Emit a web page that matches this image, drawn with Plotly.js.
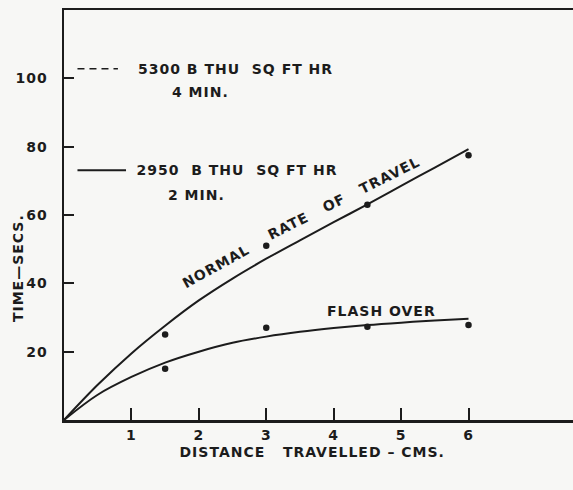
<!DOCTYPE html>
<html>
<head>
<meta charset="utf-8">
<script src="https://cdn.plot.ly/plotly-3.0.1.min.js"></script>
<style>
  html, body { margin: 0; padding: 0; background: #f7f7f5; }
  #chart { width: 573px; height: 490px; }
  #chart text { letter-spacing: 1px; }
</style>
</head>
<body>
<div id="chart"></div>
<script>
// Fitted curves (distance in cm, time in seconds)
const curveDistance = [0, 0.5, 1, 1.5, 2, 2.5, 3, 3.5, 4, 4.5, 5, 5.5, 6];
const normalRateCurve = [0, 10.3, 19.5, 27.6, 35, 41.4, 47.2, 52.6, 57.9, 63.1, 68.5, 73.9, 79.3];
const flashOverCurve = [0, 7.4, 12.6, 16.8, 20, 22.6, 24.4, 25.8, 26.9, 27.8, 28.5, 29.1, 29.6];

// Measured points
const pointDistance = [1.5, 3, 4.5, 6];
const normalRatePoints = [25, 51, 63, 77.5];
const flashOverPoints = [15, 27, 27.3, 27.8];

// Axis ticks
const xTickValues = [1, 2, 3, 4, 5, 6];
const yTickValues = [20, 40, 60, 80, 100];

const ink = '#1c1c1c';
const font = { family: 'DejaVu Sans', size: 14, color: ink, weight: 'bold' };

const traces = [
  {
    x: curveDistance, y: normalRateCurve, mode: 'lines',
    line: { color: ink, width: 2, shape: 'spline', smoothing: 1 },
    hoverinfo: 'skip'
  },
  {
    x: curveDistance, y: flashOverCurve, mode: 'lines',
    line: { color: ink, width: 2, shape: 'spline', smoothing: 1 },
    hoverinfo: 'skip'
  },
  {
    x: pointDistance.concat(pointDistance),
    y: normalRatePoints.concat(flashOverPoints),
    mode: 'markers',
    marker: { color: ink, size: 6.5 }
  }
];

const layout = {
  width: 573, height: 490,
  margin: { l: 64, r: 0, t: 10, b: 70 },
  paper_bgcolor: '#f7f7f5', plot_bgcolor: '#f7f7f5',
  showlegend: false,
  font: font,
  xaxis: {
    range: [0, 7.55], showgrid: false, zeroline: false,
    showline: true, mirror: true, linecolor: ink, linewidth: 2.5,
    tickvals: xTickValues, ticks: 'inside', ticklen: 12, tickwidth: 2, tickcolor: ink,
    ticklabelstandoff: 1, tickfont: font
  },
  yaxis: {
    range: [0, 120], showgrid: false, zeroline: false,
    showline: true, linecolor: ink, linewidth: 2.5,
    tickvals: yTickValues, ticks: 'inside', ticklen: 10, tickwidth: 2, tickcolor: ink,
    ticklabelstandoff: 11, tickfont: font
  },
  shapes: [
    // key samples
    { type: 'line', xref: 'x', yref: 'y', x0: 0.2, x1: 0.8, y0: 102.8, y1: 102.8,
      line: { color: ink, width: 1.5, dash: '7px,5px' } },
    { type: 'line', xref: 'x', yref: 'y', x0: 0.2, x1: 0.92, y0: 73.1, y1: 73.1,
      line: { color: ink, width: 2 } }
  ],
  annotations: [
    { text: '5300 B THU  SQ FT HR', x: 2.55, y: 102.8, xref: 'x', yref: 'y',
      xanchor: 'center', yanchor: 'middle', showarrow: false },
    { text: '4 MIN.', x: 2.02, y: 95.9, xref: 'x', yref: 'y',
      xanchor: 'center', yanchor: 'middle', showarrow: false },
    { text: '2950  B THU  SQ FT HR', x: 2.56, y: 73.1, xref: 'x', yref: 'y',
      xanchor: 'center', yanchor: 'middle', showarrow: false },
    { text: '2 MIN.', x: 1.97, y: 65.8, xref: 'x', yref: 'y',
      xanchor: 'center', yanchor: 'middle', showarrow: false },
    { text: 'NORMAL', x: 2.26, y: 45.0, xref: 'x', yref: 'y', textangle: -29,
      showarrow: false },
    { text: 'RATE   OF   TRAVEL', x: 4.15, y: 64.9, xref: 'x', yref: 'y', textangle: -26.5,
      showarrow: false },
    { text: 'FLASH OVER', x: 4.71, y: 32.0, xref: 'x', yref: 'y',
      showarrow: false },
    { text: 'DISTANCE   TRAVELLED – CMS.', x: 0.488, y: -0.078, xref: 'paper', yref: 'paper',
      xanchor: 'center', yanchor: 'middle', showarrow: false },
    { text: 'TIME—SECS.', x: -0.09, y: 0.371, xref: 'paper', yref: 'paper',
      textangle: -90, xanchor: 'center', yanchor: 'middle', showarrow: false }
  ]
};

Plotly.newPlot('chart', traces, layout, { displayModeBar: false, staticPlot: true });
</script>
</body>
</html>
